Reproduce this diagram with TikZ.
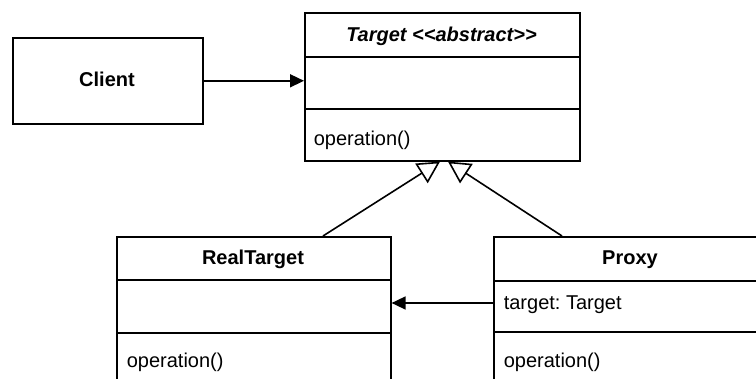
\documentclass[tikz,border=0pt]{standalone}
\usepackage{fontspec}
\setmainfont{Liberation Sans}
\usetikzlibrary{arrows.meta,calc}
\frenchspacing
\begin{document}
\begin{tikzpicture}[x=1pt,y=-1pt, line width=1.6pt,
  box/.style={draw, rectangle, inner sep=0pt, anchor=north west},
  lbl/.style={font=\fontsize{20}{24}\selectfont, inner sep=0pt},
  ttl/.style={lbl, font=\fontsize{20}{24}\selectfont\bfseries, anchor=base},
  mem/.style={lbl, anchor=base west},
  assoc/.style={-{Triangle[length=14pt,width=13pt]}},
  inherit/.style={-{Triangle[open,length=22pt,width=23pt,fill=white]}}]
\useasboundingbox (0,0) rectangle (756,379);
\clip (0,0) rectangle (756,379);
% Client
\node[box, minimum width=190pt, minimum height=86pt] (client) at (12,37) {};
\node[ttl] (clientlbl) at (107,87) {Client};
% Target
\node[box, minimum width=275pt, minimum height=148pt] (target) at (304,12) {};
\draw ($(target.north west)+(0,45)$) -- ($(target.north east)+(0,45)$);
\draw ($(target.north west)+(0,97)$) -- ($(target.north east)+(0,97)$);
\node[ttl, font=\fontsize{20}{24}\selectfont\bfseries\itshape] (targetlbl) at (441.5,42) {Target <{}<abstract>{}>};
\node[mem] (targetop) at (313,146) {operation()};
% RealTarget
\node[box, minimum width=274pt, minimum height=200pt] (rt) at (116,236) {};
\draw ($(rt.north west)+(0,44)$) -- ($(rt.north east)+(0,44)$);
\draw ($(rt.north west)+(0,97)$) -- ($(rt.north east)+(0,97)$);
\node[ttl] (rtlbl) at (253,265) {RealTarget};
\node[mem] (rtop) at (126,368) {operation()};
% Proxy
\node[box, minimum width=275pt, minimum height=200pt] (px) at (493,236) {};
\draw ($(px.north west)+(0,45)$) -- ($(px.north east)+(0,45)$);
\draw ($(px.north west)+(0,96)$) -- ($(px.north east)+(0,96)$);
\node[ttl] (pxlbl) at (630,265) {Proxy};
\node[mem] (pxattr) at (503,310) {target: Target};
\node[mem] (pxop) at (503,368) {operation()};
% connectors
\draw[assoc] (client.east) -- (client.east -| target.west);
\coordinate (rtTop) at ($(rt.north west)+(207,0)$);
\coordinate (pxTop) at ($(px.north west)+(69,0)$);
\coordinate (apexL) at ($(target.south west)+(136,0)$);
\coordinate (apexR) at ($(target.south west)+(144,0)$);
\draw[inherit] (rtTop) -- (apexL);
\draw[inherit] (pxTop) -- (apexR);
\coordinate (pxa) at ($(px.north west)+(0,67)$);
\draw[assoc] (pxa) -- (pxa -| rt.east);
\end{tikzpicture}
\end{document}
